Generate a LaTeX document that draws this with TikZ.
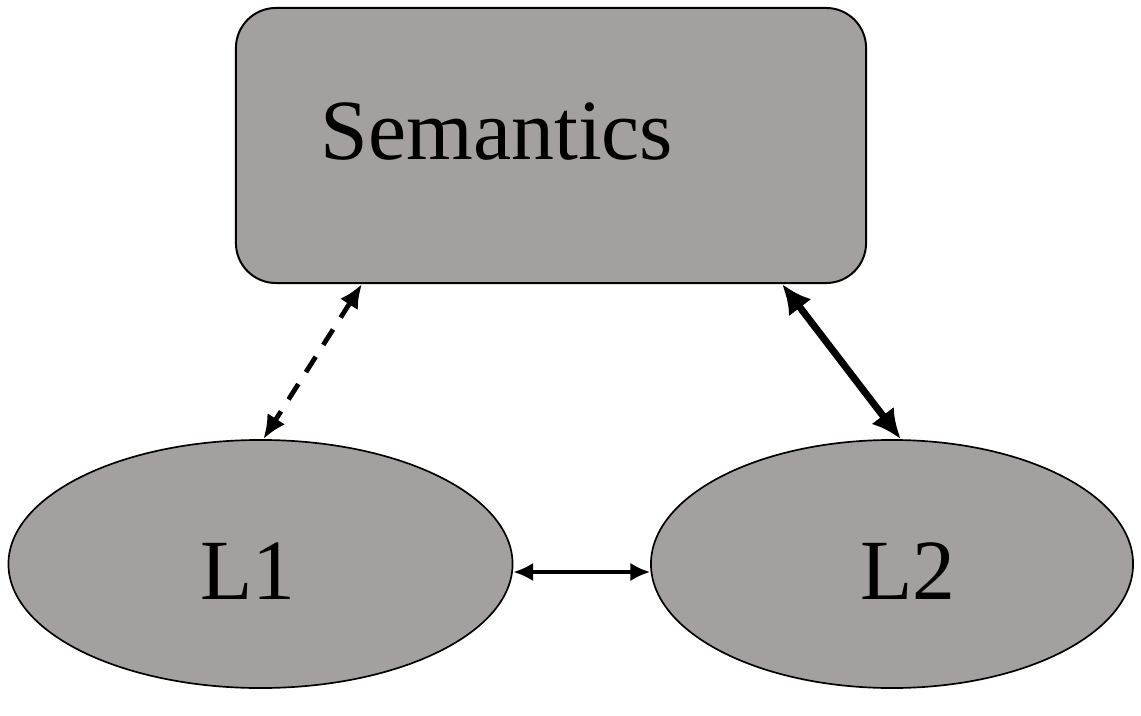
\documentclass[tikz,border=0pt]{standalone}
\usepackage{fontspec}
\setmainfont{Liberation Serif}
\usetikzlibrary{shapes.geometric,arrows.meta}

\definecolor{boxgray}{HTML}{A4A09F}

\tikzset{
  block/.style={draw, line width=1.4pt, fill=boxgray, rounded corners=1cm,
    minimum width=15.75cm, minimum height=6.875cm},
  lang/.style={draw, line width=1.2pt, fill=boxgray, ellipse, inner sep=0pt,
    minimum height=6.2cm},
  big/.style={font=\fontsize{61}{64}\selectfont, inner sep=0pt}
}

\begin{document}
\begin{tikzpicture}[
  x=0.025cm,
  y=-0.025cm,
  line cap=butt,
  line join=round
]
  \useasboundingbox (0,0) rectangle (1141,715);

  % Верхний блок
  \node[block] (sem) at (551,145.5) {};
  \node[big] (semtext) at (497,132) {Semantics};

  % Два языка
  \node[lang, minimum width=12.6cm] (L1) at (260.5,564) {};
  \node[lang, minimum width=12.05cm] (L2) at (892,564) {};
  \node[big] (L1text) at (248,571) {L1};
  \node[big] (L2text) at (908,571) {L2};

  % Связи
  \draw[line width=3.4pt, dashed, dash pattern=on 13pt off 10pt,
        {Latex[length=17pt,width=15pt]}-{Latex[length=17pt,width=15pt]}]
    ([xshift=3.175cm]sem.south west) -- ([xshift=0.07cm]L1.north);
  \draw[line width=5pt,
        {Latex[length=21pt,width=20pt]}-{Latex[length=21pt,width=20pt]}]
    ([xshift=-2.125cm]sem.south east) -- ([xshift=0.22cm]L2.north);
  \draw[line width=2.3pt,
        {Latex[length=14pt,width=13pt]}-{Latex[length=14pt,width=13pt]}]
    ([yshift=-0.2cm]L1.east) -- ([yshift=-0.2cm]L2.west);
\end{tikzpicture}
\end{document}
